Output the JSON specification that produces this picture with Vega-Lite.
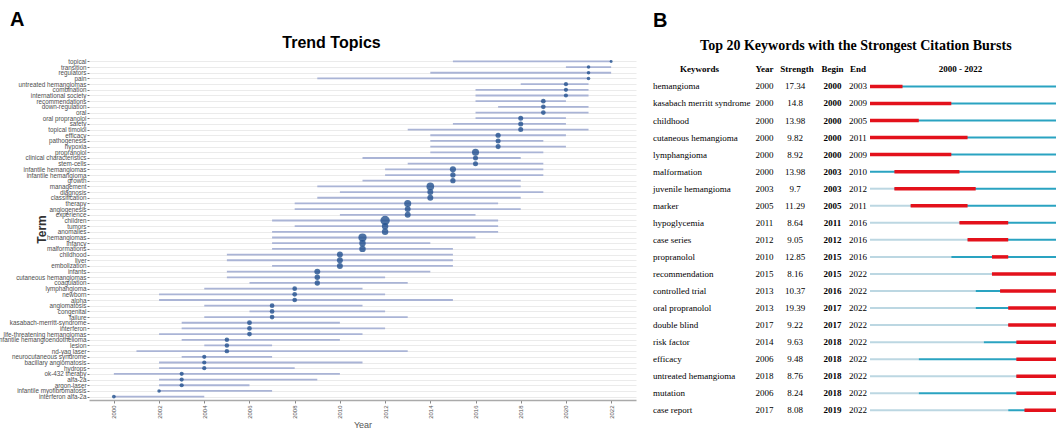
{
  "$schema": "https://vega.github.io/schema/vega-lite/v6.json",
  "background": "white",
  "padding": {"left": -3, "top": 9, "right": 0, "bottom": 0},
  "spacing": 17,
  "config": {"view": {"stroke": null}, "font": "Liberation Sans"},
  "datasets": {
    "trend": [
      {"term":"topical","start":2015,"median":2022,"end":2022,"freq":11},
      {"term":"transition","start":2020,"median":2021,"end":2022,"freq":16},
      {"term":"regulators","start":2014,"median":2021,"end":2022,"freq":16},
      {"term":"pain","start":2009,"median":2021,"end":2021,"freq":16},
      {"term":"untreated hemangiomas","start":2018,"median":2020,"end":2021,"freq":22},
      {"term":"combination","start":2016,"median":2020,"end":2021,"freq":22},
      {"term":"international society","start":2016,"median":2020,"end":2021,"freq":22},
      {"term":"recommendations","start":2016,"median":2019,"end":2020,"freq":28},
      {"term":"down-regulation","start":2017,"median":2019,"end":2021,"freq":28},
      {"term":"oral","start":2016,"median":2019,"end":2021,"freq":28},
      {"term":"oral propranolol","start":2016,"median":2018,"end":2020,"freq":32},
      {"term":"safety","start":2015,"median":2018,"end":2020,"freq":32},
      {"term":"topical timolol","start":2013,"median":2018,"end":2021,"freq":32},
      {"term":"efficacy","start":2014,"median":2017,"end":2020,"freq":34},
      {"term":"pathogenesis","start":2014,"median":2017,"end":2019,"freq":32},
      {"term":"hypoxia","start":2014,"median":2017,"end":2020,"freq":32},
      {"term":"propranolol","start":2014,"median":2016,"end":2019,"freq":64},
      {"term":"clinical characteristics","start":2011,"median":2016,"end":2018,"freq":32},
      {"term":"stem-cells","start":2013,"median":2016,"end":2019,"freq":32},
      {"term":"infantile hemangiomas","start":2012,"median":2015,"end":2019,"freq":48},
      {"term":"infantile hemangioma","start":2012,"median":2015,"end":2019,"freq":36},
      {"term":"growth","start":2011,"median":2015,"end":2018,"freq":36},
      {"term":"management","start":2009,"median":2014,"end":2018,"freq":75},
      {"term":"diagnosis","start":2010,"median":2014,"end":2019,"freq":45},
      {"term":"classification","start":2009,"median":2014,"end":2018,"freq":45},
      {"term":"therapy","start":2008,"median":2013,"end":2017,"freq":64},
      {"term":"angiogenesis","start":2008,"median":2013,"end":2018,"freq":45},
      {"term":"experience","start":2010,"median":2013,"end":2016,"freq":45},
      {"term":"children","start":2007,"median":2012,"end":2017,"freq":114},
      {"term":"tumors","start":2008,"median":2012,"end":2017,"freq":53},
      {"term":"anomalies","start":2007,"median":2012,"end":2017,"freq":53},
      {"term":"hemangiomas","start":2007,"median":2011,"end":2016,"freq":86},
      {"term":"infancy","start":2007,"median":2011,"end":2014,"freq":53},
      {"term":"malformations","start":2007,"median":2011,"end":2015,"freq":53},
      {"term":"childhood","start":2005,"median":2010,"end":2015,"freq":45},
      {"term":"liver","start":2005,"median":2010,"end":2015,"freq":45},
      {"term":"embolization","start":2007,"median":2010,"end":2015,"freq":45},
      {"term":"infants","start":2005,"median":2009,"end":2014,"freq":45},
      {"term":"cutaneous hemangiomas","start":2005,"median":2009,"end":2012,"freq":38},
      {"term":"coagulation","start":2006,"median":2009,"end":2013,"freq":36},
      {"term":"lymphangioma","start":2004,"median":2008,"end":2011,"freq":28},
      {"term":"newborn","start":2002,"median":2008,"end":2012,"freq":28},
      {"term":"alpha","start":2002,"median":2008,"end":2015,"freq":28},
      {"term":"angiomatosis","start":2004,"median":2007,"end":2011,"freq":28},
      {"term":"congenital","start":2006,"median":2007,"end":2012,"freq":28},
      {"term":"failure","start":2004,"median":2007,"end":2013,"freq":28},
      {"term":"kasabach-merritt-syndrome","start":2003,"median":2006,"end":2010,"freq":30},
      {"term":"interferon","start":2003,"median":2006,"end":2012,"freq":28},
      {"term":"life-threatening hemangiomas","start":2002,"median":2006,"end":2011,"freq":28},
      {"term":"infantile hemangioendothelioma","start":2003,"median":2005,"end":2010,"freq":25},
      {"term":"lesion","start":2004,"median":2005,"end":2007,"freq":25},
      {"term":"nd-yag laser","start":2001,"median":2005,"end":2013,"freq":25},
      {"term":"neurocutaneous syndrome","start":2003,"median":2004,"end":2007,"freq":22},
      {"term":"bacillary angiomatosis","start":2002,"median":2004,"end":2011,"freq":22},
      {"term":"hydrops","start":2002,"median":2004,"end":2008,"freq":22},
      {"term":"ok-432 therapy","start":2000,"median":2003,"end":2010,"freq":22},
      {"term":"alfa-2a","start":2002,"median":2003,"end":2009,"freq":22},
      {"term":"argon-laser","start":2002,"median":2003,"end":2006,"freq":22},
      {"term":"infantile myofibromatosis","start":2002,"median":2002,"end":2007,"freq":16},
      {"term":"interferon alfa-2a","start":2000,"median":2000,"end":2004,"freq":18}
    ],
    "bursts": [
      {"keyword":"hemangioma","Year":2000,"Strength":17.34,"Begin":2000,"End":2003},
      {"keyword":"kasabach merritt syndrome","Year":2000,"Strength":14.8,"Begin":2000,"End":2009},
      {"keyword":"childhood","Year":2000,"Strength":13.98,"Begin":2000,"End":2005},
      {"keyword":"cutaneous hemangioma","Year":2000,"Strength":9.82,"Begin":2000,"End":2011},
      {"keyword":"lymphangioma","Year":2000,"Strength":8.92,"Begin":2000,"End":2009},
      {"keyword":"malformation","Year":2000,"Strength":13.98,"Begin":2003,"End":2010},
      {"keyword":"juvenile hemangioma","Year":2003,"Strength":9.7,"Begin":2003,"End":2012},
      {"keyword":"marker","Year":2005,"Strength":11.29,"Begin":2005,"End":2011},
      {"keyword":"hypoglycemia","Year":2011,"Strength":8.64,"Begin":2011,"End":2016},
      {"keyword":"case series","Year":2012,"Strength":9.05,"Begin":2012,"End":2016},
      {"keyword":"propranolol","Year":2010,"Strength":12.85,"Begin":2015,"End":2016},
      {"keyword":"recommendation","Year":2015,"Strength":8.16,"Begin":2015,"End":2022},
      {"keyword":"controlled trial","Year":2013,"Strength":10.37,"Begin":2016,"End":2022},
      {"keyword":"oral propranolol","Year":2013,"Strength":19.39,"Begin":2017,"End":2022},
      {"keyword":"double blind","Year":2017,"Strength":9.22,"Begin":2017,"End":2022},
      {"keyword":"risk factor","Year":2014,"Strength":9.63,"Begin":2018,"End":2022},
      {"keyword":"efficacy","Year":2006,"Strength":9.48,"Begin":2018,"End":2022},
      {"keyword":"untreated hemangioma","Year":2018,"Strength":8.76,"Begin":2018,"End":2022},
      {"keyword":"mutation","Year":2006,"Strength":8.24,"Begin":2018,"End":2022},
      {"keyword":"case report","Year":2017,"Strength":8.08,"Begin":2019,"End":2022}
    ]
  },
  "hconcat": [
    {
      "title": {"text": "A", "anchor": "start", "frame": "bounds", "fontSize": 20, "fontWeight": "bold", "font": "Liberation Sans", "color": "black", "offset": 5.5, "dx": 13},
      "vconcat": [
        {
          "width": 547,
          "height": 342,
          "title": {"text": "Trend Topics", "fontSize": 16, "fontWeight": "bold", "font": "Liberation Sans", "color": "black", "anchor": "middle", "dx": -31, "offset": 6.6},
          "data": {"name": "trend"},
          "encoding": {
            "y": {
              "field": "term", "type": "nominal", "sort": null,
              "scale": {"type": "point", "padding": 0.6},
              "axis": {
                "title": "Term", "titleFontSize": 12, "titleFontWeight": "bold", "titleColor": "#333333",
                "titleX": -48, "titleBaseline": "middle",
                "labelFontSize": 6.3, "labelColor": "#4d4d4d", "labelFont": "Liberation Sans",
                "labelOverlap": false, "labelPadding": 1, "tickSize": 2, "tickColor": "#777777",
                "domain": false, "grid": true, "gridColor": "#ebebeb", "gridWidth": 1
              }
            }
          },
          "layer": [
            {
              "mark": {"type": "rule", "color": "#aab4d6", "strokeWidth": 1.8},
              "encoding": {
                "x": {
                  "field": "start", "type": "quantitative",
                  "scale": {"domain": [1998.9, 2023.1], "nice": false, "zero": false},
                  "axis": {
                    "title": "Year", "values": [2000,2002,2004,2006,2008,2010,2012,2014,2016,2018,2020,2022],
                    "format": "d", "labelAngle": -90, "labelFontSize": 6, "labelColor": "#555555",
                    "tickSize": 3, "tickColor": "#888888", "domainColor": "#aaaaaa", "domainWidth": 1.5,
                    "grid": false, "labelPadding": 2, "titleFontSize": 9, "titleFontWeight": "normal",
                    "titleColor": "#555555", "titlePadding": 2
                  }
                },
                "x2": {"field": "end"}
              }
            },
            {
              "mark": {"type": "circle", "color": "#22508f", "opacity": 0.8},
              "encoding": {
                "x": {"field": "median", "type": "quantitative", "axis": {"title": "Year"}},
                "size": {"field": "freq", "type": "quantitative", "scale": {"domain": [0, 100], "range": [0, 78.5]}, "legend": null}
              }
            }
          ]
        }
      ]
    },
    {
      "title": {"text": "B", "anchor": "start", "frame": "group", "fontSize": 20, "fontWeight": "bold", "font": "Liberation Sans", "color": "black", "offset": 7.5},
      "vconcat": [
        {
          "title": {"text": "Top 20 Keywords with the Strongest Citation Bursts", "font": "Liberation Serif", "fontSize": 14, "fontWeight": "bold", "color": "black", "anchor": "middle", "offset": 5.1},
          "spacing": 0,
          "bounds": "flush",
          "hconcat": [
            {
              "width": 99, "height": 363.7,
              "layer": [
                {
                  "data": {"values": [{"keyword": " ", "label": "Keywords"}]},
                  "mark": {"type": "text", "align": "center", "baseline": "middle", "font": "Liberation Serif", "fontSize": 9, "fontWeight": "bold", "color": "black", "dx": -3},
                  "encoding": {
                    "y": {"field": "keyword", "type": "nominal", "sort": null, "axis": null},
                    "text": {"field": "label"}
                  }
                },
                {
                  "data": {"name": "bursts"},
                  "mark": {"type": "text", "align": "left", "baseline": "middle", "font": "Liberation Serif", "fontSize": 9, "color": "black"},
                  "encoding": {
                    "y": {"field": "keyword", "type": "nominal", "sort": null, "axis": null},
                    "x": {"datum": 0, "type": "quantitative", "scale": {"domain": [0, 1]}, "axis": null},
                    "text": {"field": "keyword"}
                  }
                }
              ],
              "encoding": {
                "y": {"field": "keyword", "type": "nominal", "axis": null,
                  "scale": {"type": "point", "padding": 0.666, "domain": [" ","hemangioma","kasabach merritt syndrome","childhood","cutaneous hemangioma","lymphangioma","malformation","juvenile hemangioma","marker","hypoglycemia","case series","propranolol","recommendation","controlled trial","oral propranolol","double blind","risk factor","efficacy","untreated hemangioma","mutation","case report"]}}
              }
            },
            {
              "width": 25, "height": 363.7,
              "encoding": {
                "y": {"field": "keyword", "type": "nominal", "axis": null,
                  "scale": {"type": "point", "padding": 0.666, "domain": [" ","hemangioma","kasabach merritt syndrome","childhood","cutaneous hemangioma","lymphangioma","malformation","juvenile hemangioma","marker","hypoglycemia","case series","propranolol","recommendation","controlled trial","oral propranolol","double blind","risk factor","efficacy","untreated hemangioma","mutation","case report"]}}
              },
              "layer": [
                {
                  "data": {"values": [{"keyword": " ", "label": "Year"}]},
                  "mark": {"type": "text", "align": "center", "baseline": "middle", "font": "Liberation Serif", "fontSize": 9, "fontWeight": "bold", "color": "black"},
                  "encoding": {"text": {"field": "label"}}
                },
                {
                  "data": {"name": "bursts"},
                  "mark": {"type": "text", "align": "center", "baseline": "middle", "font": "Liberation Serif", "fontSize": 9, "color": "black"},
                  "encoding": {"text": {"field": "Year", "type": "nominal"}}
                }
              ]
            },
            {
              "width": 36, "height": 363.7,
              "encoding": {
                "y": {"field": "keyword", "type": "nominal", "axis": null,
                  "scale": {"type": "point", "padding": 0.666, "domain": [" ","hemangioma","kasabach merritt syndrome","childhood","cutaneous hemangioma","lymphangioma","malformation","juvenile hemangioma","marker","hypoglycemia","case series","propranolol","recommendation","controlled trial","oral propranolol","double blind","risk factor","efficacy","untreated hemangioma","mutation","case report"]}}
              },
              "layer": [
                {
                  "data": {"values": [{"keyword": " ", "label": "Strength"}]},
                  "mark": {"type": "text", "align": "center", "baseline": "middle", "font": "Liberation Serif", "fontSize": 9, "fontWeight": "bold", "color": "black", "dx": 2},
                  "encoding": {"text": {"field": "label"}}
                },
                {
                  "data": {"name": "bursts"},
                  "mark": {"type": "text", "align": "center", "baseline": "middle", "font": "Liberation Serif", "fontSize": 9, "color": "black"},
                  "encoding": {"text": {"field": "Strength", "type": "nominal"}}
                }
              ]
            },
            {
              "width": 39, "height": 363.7,
              "encoding": {
                "y": {"field": "keyword", "type": "nominal", "axis": null,
                  "scale": {"type": "point", "padding": 0.666, "domain": [" ","hemangioma","kasabach merritt syndrome","childhood","cutaneous hemangioma","lymphangioma","malformation","juvenile hemangioma","marker","hypoglycemia","case series","propranolol","recommendation","controlled trial","oral propranolol","double blind","risk factor","efficacy","untreated hemangioma","mutation","case report"]}}
              },
              "layer": [
                {
                  "data": {"values": [{"keyword": " ", "label": "Begin"}]},
                  "mark": {"type": "text", "align": "center", "baseline": "middle", "font": "Liberation Serif", "fontSize": 9, "fontWeight": "bold", "color": "black"},
                  "encoding": {"text": {"field": "label"}}
                },
                {
                  "data": {"name": "bursts"},
                  "mark": {"type": "text", "align": "center", "baseline": "middle", "font": "Liberation Serif", "fontSize": 9, "fontWeight": "bold", "color": "black"},
                  "encoding": {"text": {"field": "Begin", "type": "nominal"}}
                }
              ]
            },
            {
              "width": 12, "height": 363.7,
              "encoding": {
                "y": {"field": "keyword", "type": "nominal", "axis": null,
                  "scale": {"type": "point", "padding": 0.666, "domain": [" ","hemangioma","kasabach merritt syndrome","childhood","cutaneous hemangioma","lymphangioma","malformation","juvenile hemangioma","marker","hypoglycemia","case series","propranolol","recommendation","controlled trial","oral propranolol","double blind","risk factor","efficacy","untreated hemangioma","mutation","case report"]}}
              },
              "layer": [
                {
                  "data": {"values": [{"keyword": " ", "label": "End"}]},
                  "mark": {"type": "text", "align": "center", "baseline": "middle", "font": "Liberation Serif", "fontSize": 9, "fontWeight": "bold", "color": "black"},
                  "encoding": {"text": {"field": "label"}}
                },
                {
                  "data": {"name": "bursts"},
                  "mark": {"type": "text", "align": "center", "baseline": "middle", "font": "Liberation Serif", "fontSize": 9, "color": "black"},
                  "encoding": {"text": {"field": "End", "type": "nominal"}}
                }
              ]
            },
            {
              "width": 193, "height": 363.7,
              "encoding": {
                "y": {"field": "keyword", "type": "nominal", "axis": null,
                  "scale": {"type": "point", "padding": 0.666, "domain": [" ","hemangioma","kasabach merritt syndrome","childhood","cutaneous hemangioma","lymphangioma","malformation","juvenile hemangioma","marker","hypoglycemia","case series","propranolol","recommendation","controlled trial","oral propranolol","double blind","risk factor","efficacy","untreated hemangioma","mutation","case report"]}}
              },
              "layer": [
                {
                  "data": {"values": [{"keyword": " ", "label": "2000 - 2022"}]},
                  "mark": {"type": "text", "align": "center", "baseline": "middle", "font": "Liberation Serif", "fontSize": 9, "fontWeight": "bold", "color": "black"},
                  "encoding": {"text": {"field": "label"}}
                },
                {
                  "data": {"name": "bursts"},
                  "mark": {"type": "rule", "color": "#bcd7e2", "strokeWidth": 2},
                  "encoding": {
                    "x": {"field": "Year", "type": "quantitative", "scale": {"domain": [1999.262, 2023], "nice": false, "zero": false}, "axis": null},
                    "x2": {"datum": 2000}
                  }
                },
                {
                  "data": {"name": "bursts"},
                  "mark": {"type": "rule", "color": "#2aa3c1", "strokeWidth": 2},
                  "encoding": {
                    "x": {"field": "Year", "type": "quantitative", "axis": null},
                    "x2": {"datum": 2023}
                  }
                },
                {
                  "data": {"name": "bursts"},
                  "mark": {"type": "rule", "color": "#e3111b", "strokeWidth": 3.5, "x2Offset": 8.13},
                  "encoding": {
                    "x": {"field": "Begin", "type": "quantitative", "axis": null},
                    "x2": {"field": "End"}
                  }
                }
              ]
            }
          ]
        }
      ]
    }
  ]
}
